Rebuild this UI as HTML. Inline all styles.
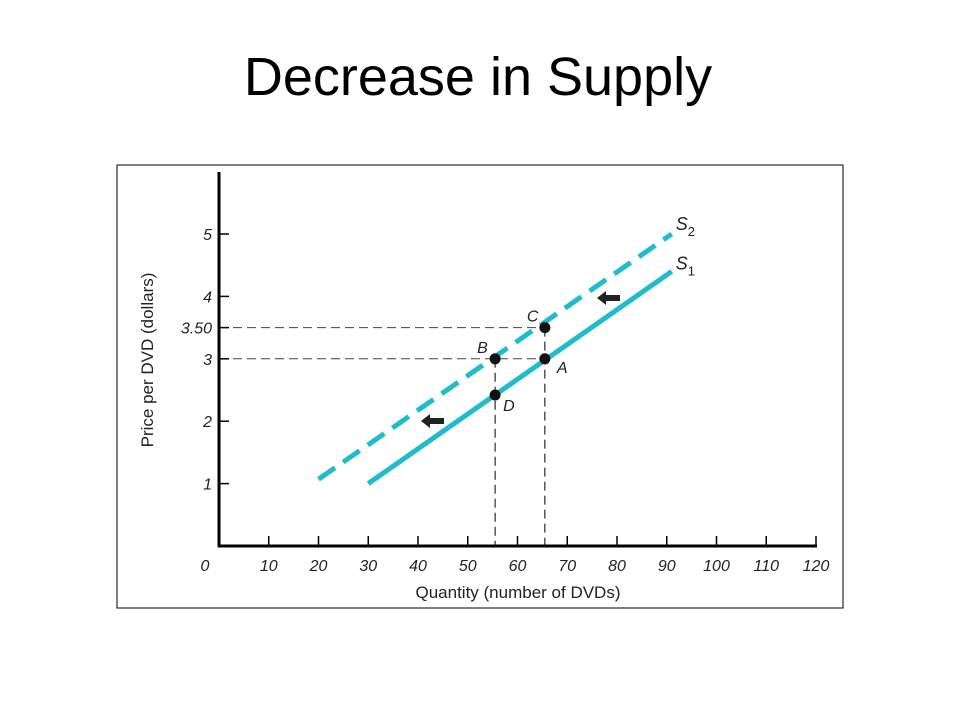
<!DOCTYPE html>
<html><head><meta charset="utf-8"><style>
body{margin:0;width:960px;height:720px;background:#fff;overflow:hidden;font-family:"Liberation Sans",sans-serif}
</style></head><body>
<svg width="960" height="720">
<text x="478" y="95" text-anchor="middle" font-size="54" fill="#000">Decrease in Supply</text>
<rect x="117" y="165" width="726" height="443" fill="none" stroke="#000" stroke-width="1"/>
<g id="plot"></g>
</svg>
<script>
const xTicks=[0,10,20,30,40,50,60,70,80,90,100,110,120];
const yTicks=[1,2,3,3.5,4,5];
const yTickLabels=["1","2","3","3.50","4","5"];
const s1=[[30,1],[91,4.4]];
const s2=[[20,1.07],[91,5.0]];
const points=[["A",65.5,3],["B",55.5,3],["C",65.5,3.5],["D",55.5,2.42]];
const X=v=>219+v*4.975, Y=v=>546-v*62.4;
const g=document.getElementById('plot');const NS='http://www.w3.org/2000/svg';
function mk(t,a,name){const e=document.createElementNS(NS,t);for(const k in a)e.setAttribute(k,a[k]);


g.appendChild(e);return e;}
const txt=(x,y,s,a,name,extra)=>{const e=mk('text',Object.assign({x,y,'font-size':16,'font-style':'italic',fill:'#222','text-anchor':a},extra||{}),name);e.textContent=s;return e;};
// guides
mk('line',{x1:X(0),y1:Y(3),x2:X(65.5),y2:Y(3),stroke:'#444','stroke-dasharray':'9,5'},'guide-price-3');
mk('line',{x1:X(0),y1:Y(3.5),x2:X(65.5),y2:Y(3.5),stroke:'#444','stroke-dasharray':'9,5'},'guide-price-3-50');
mk('line',{x1:X(55.5),y1:Y(3),x2:X(55.5),y2:Y(0),stroke:'#000','stroke-dasharray':'9,5'},'guide-qty-55');
mk('line',{x1:X(65.5),y1:Y(3.5),x2:X(65.5),y2:Y(0),stroke:'#000','stroke-dasharray':'9,5'},'guide-qty-65');
// axes
mk('line',{x1:X(0),y1:172,x2:X(0),y2:Y(0)+1,stroke:'#000','stroke-width':3},'y-axis');
mk('line',{x1:X(0)-1,y1:Y(0),x2:X(120)+1,y2:Y(0),stroke:'#000','stroke-width':3},'x-axis');
xTicks.forEach((v,i)=>{if(v>0)mk('line',{x1:X(v),y1:Y(0),x2:X(v),y2:Y(0)-10,stroke:'#000','stroke-width':1.5},'x-tick');
txt(X(v)-(v==0?14:0),571,String(v),'middle','x-tick-label');});
yTicks.forEach((v,i)=>{mk('line',{x1:X(0),y1:Y(v),x2:X(0)+10,y2:Y(v),stroke:'#000','stroke-width':1.5},'y-tick');
txt(212,Y(v)+6,yTickLabels[i],'end','y-tick-label');});
txt(518,598,'Quantity (number of DVDs)','middle','x-axis-title',{'font-style':'normal','font-size':17});
txt(0,0,'Price per DVD (dollars)','middle','y-axis-title',{'font-style':'normal','font-size':17,transform:'translate(153,360) rotate(-90)'});
// curves
mk('line',{x1:X(s1[0][0]),y1:Y(s1[0][1]),x2:X(s1[1][0]),y2:Y(s1[1][1]),stroke:'#1fbccc','stroke-width':5},'supply-curve-s1');
mk('line',{x1:X(s2[0][0]),y1:Y(s2[0][1]),x2:X(s2[1][0]),y2:Y(s2[1][1]),stroke:'#1fbccc','stroke-width':5,'stroke-dasharray':'20,10'},'supply-curve-s2');
const l1=txt(X(s1[1][0])+4,Y(s1[1][1])-2,'S','start','s1-label',{'font-size':18});
const t1=document.createElementNS(NS,'tspan');t1.setAttribute('dy','6');t1.setAttribute('font-size','13');t1.setAttribute('font-style','normal');t1.textContent='1';l1.appendChild(t1);
const l2=txt(X(s2[1][0])+4,Y(s2[1][1])-4,'S','start','s2-label',{'font-size':18});
const t2=document.createElementNS(NS,'tspan');t2.setAttribute('dy','6');t2.setAttribute('font-size','13');t2.setAttribute('font-style','normal');t2.textContent='2';l2.appendChild(t2);
// arrows
[[620,298],[444,421]].forEach((p,i)=>mk('path',{d:`M${p[0]},${p[1]-3}h-14v-4l-9,7l9,7v-4h14z`,fill:'#222'},'shift-arrow-'+(i+1)));
// points
const off={A:[12,14],B:[-18,-6],C:[-18,-6],D:[8,16]};
points.forEach(p=>{mk('circle',{cx:X(p[1]),cy:Y(p[2]),r:5.5,fill:'#111'},'point-'+p[0].toLowerCase());
txt(X(p[1])+off[p[0]][0],Y(p[2])+off[p[0]][1],p[0],'start','point-label-'+p[0].toLowerCase());});
</script>
</body></html>
